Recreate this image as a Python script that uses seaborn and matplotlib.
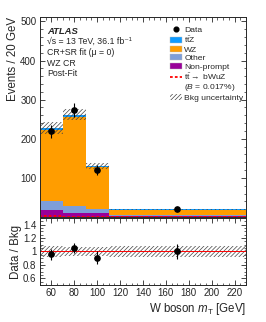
import numpy as np
import pandas as pd
import matplotlib
matplotlib.use("Agg")
import matplotlib.pyplot as plt
import seaborn as sns
from matplotlib.patches import Patch
from matplotlib.lines import Line2D
from matplotlib.ticker import MultipleLocator

# ---- data ----
edges = [50, 70, 90, 110, 230]
centers = [60, 80, 100, 170]
procs = ["ttZ", "WZ", "Other", "Non-prompt"]          # top -> bottom in the stack
ttz = [5, 5, 4, 1]
wz = [180, 229, 107, 13]
other = [24, 17, 10, 3]
nonprompt = [18, 10, 10, 3]
signal = [1.5, 1.0, 1.0, 0.6]
bkg_unc = [16, 14, 8, 1.5]
data = [219, 274, 120, 20]
data_err = [16, 18, 12, 2]
ratio = [0.96, 1.05, 0.91, 1.00]
ratio_err = [0.08, 0.075, 0.095, 0.11]
ratio_band = [0.075, 0.07, 0.07, 0.075]

colors = {"ttZ": "#0f9bff", "WZ": "#ff9d00", "Other": "#7e9ed8", "Non-prompt": "#990099"}

sns.set_style("ticks")
plt.rcParams.update({
    "font.family": ["Liberation Sans", "DejaVu Sans"],
    "mathtext.fontset": "custom",
    "mathtext.rm": "Liberation Sans",
    "mathtext.it": "Liberation Sans:italic",
    "mathtext.bf": "Liberation Sans:bold",
    "xtick.direction": "in", "ytick.direction": "in",
    "xtick.top": True, "ytick.right": True,
    "xtick.major.size": 3.6, "ytick.major.size": 3.6,
    "xtick.minor.size": 1.8, "ytick.minor.size": 1.8,
    "xtick.major.width": 0.6, "ytick.major.width": 0.6,
    "xtick.minor.width": 0.5, "ytick.minor.width": 0.5,
    "xtick.major.pad": 2.5, "ytick.major.pad": 2.5,
    "axes.linewidth": 0.7, "hatch.linewidth": 0.5, "hatch.color": "#444444",
    "xtick.labelsize": 7, "ytick.labelsize": 7,
})

rows = []
for name, vals in zip(procs, [ttz, wz, other, nonprompt]):
    for c, v in zip(centers, vals):
        rows.append({"mt": c, "n": v, "proc": name})
df = pd.DataFrame(rows)

fig = plt.figure(figsize=(2.66, 3.22), dpi=100)
ax = fig.add_axes([0.150, 0.326, 0.775, 0.621])
rax = fig.add_axes([0.150, 0.115, 0.775, 0.208], sharex=ax)

sns.histplot(data=df, x="mt", weights="n", hue="proc", hue_order=procs,
             multiple="stack", bins=edges, palette=colors, alpha=1,
             linewidth=0, legend=False, ax=ax)

total = np.array(ttz) + np.array(wz) + np.array(other) + np.array(nonprompt)
unc = np.array(bkg_unc)
lo = np.append(total - unc, (total - unc)[-1])
hi = np.append(total + unc, (total + unc)[-1])
ax.fill_between(edges, lo, hi, step="post", facecolor="none",
                edgecolor="#444444", hatch="////////", linewidth=0)

ax.stairs(signal, edges, color="red", linestyle=(0, (1.5, 1.2)), linewidth=1.3)

ax.errorbar(centers, data, yerr=data_err, fmt="o", color="black",
            markersize=3.8, elinewidth=0.8, capsize=0)

ax.set_xlim(50, 230)
ax.set_ylim(0, 511)
ax.yaxis.set_minor_locator(MultipleLocator(20))
ax.xaxis.set_minor_locator(MultipleLocator(5))
ax.set_yticks([100, 200, 300, 400, 500])
ax.tick_params(labelbottom=False)
ax.set_xlabel("")
ax.set_ylabel("Events / 20 GeV", fontsize=8.3, loc="top", labelpad=1)

ax.text(0.035, 0.93, "ATLAS", transform=ax.transAxes, fontsize=6.8,
        fontweight="bold", fontstyle="italic", va="center")
info = ["\u221as = 13 TeV, 36.1 fb\u207b\u00b9", "CR+SR fit (\u03bc = 0)",
        "WZ CR", "Post-Fit"]
ypos = [0.877, 0.823, 0.770, 0.718]
for y, t in zip(ypos, info):
    ax.text(0.035, y, t, transform=ax.transAxes, fontsize=6.3, va="center")

handles = [
    Line2D([], [], marker="o", color="black", linestyle="none", markersize=3.4),
    Patch(facecolor=colors["ttZ"], edgecolor="#bbbbbb", linewidth=0.3),
    Patch(facecolor=colors["WZ"], edgecolor="#bbbbbb", linewidth=0.3),
    Patch(facecolor=colors["Other"], edgecolor="#bbbbbb", linewidth=0.3),
    Patch(facecolor=colors["Non-prompt"], edgecolor="#bbbbbb", linewidth=0.3),
    Line2D([], [], color="red", linestyle=(0, (1.5, 1.2)), linewidth=1.3),
    Line2D([], [], color="none"),
    Patch(facecolor="none", edgecolor="#444444", hatch="////////", linewidth=0),
]
labels = ["Data", "$\\mathrm{t\\bar{t}Z}$", "WZ", "Other", "Non-prompt",
          "$\\mathrm{t\\bar{t}}\\rightarrow$ bWuZ", "($B$ = 0.017%)",
          "Bkg uncertainty"]
ax.legend(handles, labels, loc="upper left", bbox_to_anchor=(0.6, 0.985),
          frameon=False, fontsize=6.1, handlelength=1.5, handleheight=0.75,
          handletextpad=0.25, labelspacing=0.06, borderpad=0.2)

# ratio panel
rb = np.array(ratio_band)
rlo = np.append(1 - rb, 1 - rb[-1])
rhi = np.append(1 + rb, 1 + rb[-1])
rax.fill_between(edges, rlo, rhi, step="post", facecolor="none",
                 edgecolor="#444444", hatch="////////", linewidth=0)
rax.axhline(1, color="red", linewidth=0.7)
rax.errorbar(centers, ratio, yerr=ratio_err, fmt="o", color="black",
             markersize=3.8, elinewidth=0.8, capsize=0)
rax.set_ylim(0.5, 1.5)
rax.set_yticks([0.6, 0.8, 1.0, 1.2, 1.4])
rax.set_yticklabels(["0.6", "0.8", "1", "1.2", "1.4"])
rax.yaxis.set_minor_locator(MultipleLocator(0.05))
rax.set_xticks([60, 80, 100, 120, 140, 160, 180, 200, 220])
rax.xaxis.set_minor_locator(MultipleLocator(5))
rax.set_ylabel("Data / Bkg", fontsize=8.3, labelpad=1)
rax.set_xlabel("W boson $m_{\\mathrm{T}}$ [GeV]", fontsize=8.3, loc="right",
               labelpad=2)

fig.align_ylabels([ax, rax])
fig.savefig("out.png", dpi=100)
